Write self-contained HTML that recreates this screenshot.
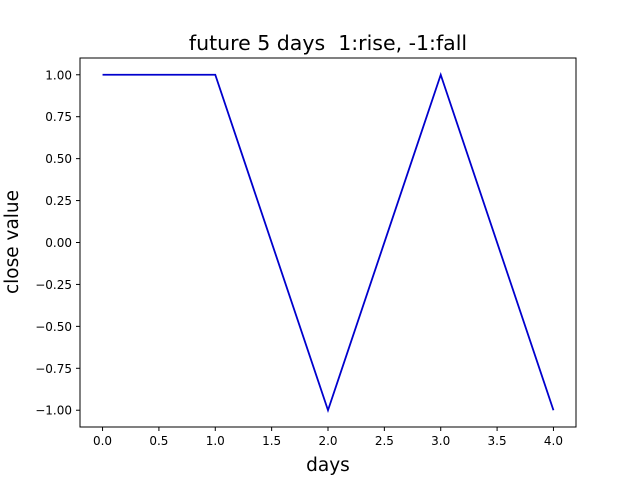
<!DOCTYPE html>
<html><head><meta charset="utf-8"><style>body{margin:0;background:#fff}svg{display:block;font-family:"DejaVu Sans","Liberation Sans",sans-serif}</style></head>
<body>
<svg id="chart" width="640" height="480" xmlns="http://www.w3.org/2000/svg">
<rect width="640" height="480" fill="#fff"/>
<text x="328" y="50" font-size="20.5" text-anchor="middle" style="white-space:pre" xml:space="preserve">future 5 days  1:rise, -1:fall</text>
<text x="328" y="471" font-size="18.5" text-anchor="middle">days</text>
<text transform="translate(18,242) rotate(-90)" font-size="18.5" text-anchor="middle">close value</text>
<g id="ticks"></g>
<g id="series"></g>
<rect x="80" y="58" width="496" height="369" fill="none" stroke="#000" stroke-width="1"/>
</svg>
<script>
const days = [0, 1, 2, 3, 4];
const closeValues = [1, 1, -1, 1, -1];
const xTicks = [0, 0.5, 1, 1.5, 2, 2.5, 3, 3.5, 4];
const yTicks = [-1, -0.75, -0.5, -0.25, 0, 0.25, 0.5, 0.75, 1];
const L=80,R=576,T=58,B=427;
const sx=v=>L+(v+0.2)/4.4*(R-L);
const sy=v=>T+(1.1-v)/2.2*(B-T);
const NS="http://www.w3.org/2000/svg";
const tg=document.getElementById('ticks');
function mk(tag,attrs,parent){const e=document.createElementNS(NS,tag);for(const k in attrs)e.setAttribute(k,attrs[k]);parent.appendChild(e);return e;}
xTicks.forEach(v=>{
  const x=sx(v);
  const l=mk('line',{x1:x,x2:x,y1:B,y2:B+4,stroke:'#000'},tg);
  
  
  const t=mk('text',{x:x,y:B+18,'font-size':12,'text-anchor':'middle'},tg);
  
  
  t.textContent=v.toFixed(1);
});
yTicks.forEach(v=>{
  const y=sy(v);
  const l=mk('line',{x1:L-4,x2:L,y1:y,y2:y,stroke:'#000'},tg);
  
  
  const t=mk('text',{x:L-8,y:y+4.5,'font-size':12,'text-anchor':'end'},tg);
  
  
  t.textContent=v<0?'\u2212'+Math.abs(v).toFixed(2):v.toFixed(2);
});
const pts=days.map((d,i)=>sx(d)+','+sy(closeValues[i])).join(' ');
const pl=mk('polyline',{points:pts,fill:'none',stroke:'#0000cd','stroke-width':1.8},document.getElementById('series'));


</script>
</body></html>
